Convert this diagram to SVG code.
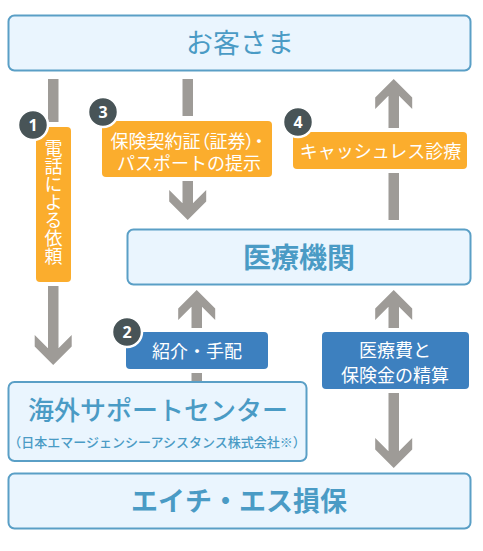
<svg xmlns="http://www.w3.org/2000/svg" xmlns:xlink="http://www.w3.org/1999/xlink" width="483" height="551" viewBox="0 0 483 551">
<style>
.box{fill:#eaf5fe;stroke:#5a9fc6;stroke-width:2}
.bt{font-family:"Noto Sans CJK JP","Noto Sans",sans-serif;fill:#4a9bc5;text-anchor:middle}
.lab-o{fill:#fbad2d;stroke:#ffffff;stroke-width:8;paint-order:stroke}
.lab-b{fill:#3d80bf;stroke:#ffffff;stroke-width:8;paint-order:stroke}
.lt{font-family:"Noto Sans CJK JP","Noto Sans",sans-serif;font-size:18px;fill:#ffffff;text-anchor:middle}
.palt{font-feature-settings:"palt" 1}
.badge{fill:#485457;stroke:#ffffff;stroke-width:2.5}
.bn{font-family:"Noto Sans","DejaVu Sans",sans-serif;font-weight:bold;font-size:16px;fill:#ffffff;text-anchor:middle}
.ar{fill:#9e9b97}
</style>
<defs>
<polygon id="hd" points="0,0 18.5,-18.5 18.5,-30 5.5,-17 -5.5,-17 -18.5,-30 -18.5,-18.5"/>
</defs>
<rect width="483" height="551" fill="#ffffff"/>
<g id="connectors">
<rect class="ar" x="48" y="79" width="10.5" height="43"/>
<rect class="ar" x="48" y="285" width="10.5" height="65"/>
<use class="ar" xlink:href="#hd" transform="translate(53.2,365)"/>
<rect class="ar" x="182.5" y="79" width="10.5" height="37"/>
<rect class="ar" x="182.5" y="180" width="10.5" height="25"/>
<use class="ar" xlink:href="#hd" transform="translate(187.7,220)"/>
<rect class="ar" x="388.5" y="95" width="10.5" height="125"/>
<use class="ar" xlink:href="#hd" transform="translate(393.7,79) rotate(180)"/>
<rect class="ar" x="191.5" y="305" width="10.5" height="76"/>
<use class="ar" xlink:href="#hd" transform="translate(196.7,290) rotate(180)"/>
<rect class="ar" x="388.5" y="305" width="10.5" height="148"/>
<use class="ar" xlink:href="#hd" transform="translate(393.7,290) rotate(180)"/>
<use class="ar" xlink:href="#hd" transform="translate(393.7,468)"/>
</g>
<g id="node-customer">
<rect class="box" x="8.5" y="15.5" width="462" height="55" rx="6"/>
<text class="bt" x="240" y="53" font-size="27">お客さま</text>
</g>
<g id="node-medical">
<rect class="box" x="127.5" y="229.5" width="343" height="55" rx="6"/>
<text class="bt" x="299" y="268" font-size="28" font-weight="bold">医療機関</text>
</g>
<g id="node-support">
<rect class="box" x="8.5" y="382" width="298" height="79" rx="6"/>
<text class="bt" x="158" y="420" font-size="26" font-weight="500">海外サポートセンター</text>
<text class="bt" x="157" y="447" font-size="13" font-weight="500">（日本エマージェンシーアシスタンス株式会社※）</text>
</g>
<g id="node-hs">
<rect class="box" x="8.5" y="473.5" width="462" height="55" rx="6"/>
<text class="bt" x="239" y="511" font-size="27" font-weight="bold">エイチ・エス損保</text>
</g>
<g id="label-1">
<rect class="lab-o" x="36" y="127" width="35" height="155" rx="4"/>
<text class="lt" x="53.5" y="139" style="writing-mode:vertical-rl;text-anchor:start">電話による依頼</text>
<circle class="badge" cx="33" cy="125" r="15"/>
<text class="bn" x="33" y="130.5">1</text>
</g>
<g id="label-3">
<rect class="lab-o" x="102" y="121" width="170" height="56" rx="4"/>
<text class="lt palt" x="187" y="148">保険契約証（証券）・</text>
<text class="lt" x="189" y="170">パスポートの提示</text>
<circle class="badge" cx="103" cy="112" r="15"/>
<text class="bn" x="103" y="117.5">3</text>
</g>
<g id="label-4">
<rect class="lab-o" x="293" y="132" width="174" height="37" rx="4"/>
<text class="lt" x="380.5" y="158">キャッシュレス診療</text>
<circle class="badge" cx="298" cy="122" r="15"/>
<text class="bn" x="298" y="127.5">4</text>
</g>
<g id="label-2">
<rect class="lab-b" x="126" y="332" width="142" height="37" rx="4"/>
<text class="lt" x="197" y="358">紹介・手配</text>
<circle class="badge" cx="127" cy="332" r="15"/>
<text class="bn" x="127" y="337.5">2</text>
</g>
<g id="label-5">
<rect class="lab-b" x="322" y="332" width="147" height="57" rx="4"/>
<text class="lt" x="395" y="357">医療費と</text>
<text class="lt" x="395" y="382">保険金の精算</text>
</g>
</svg>
